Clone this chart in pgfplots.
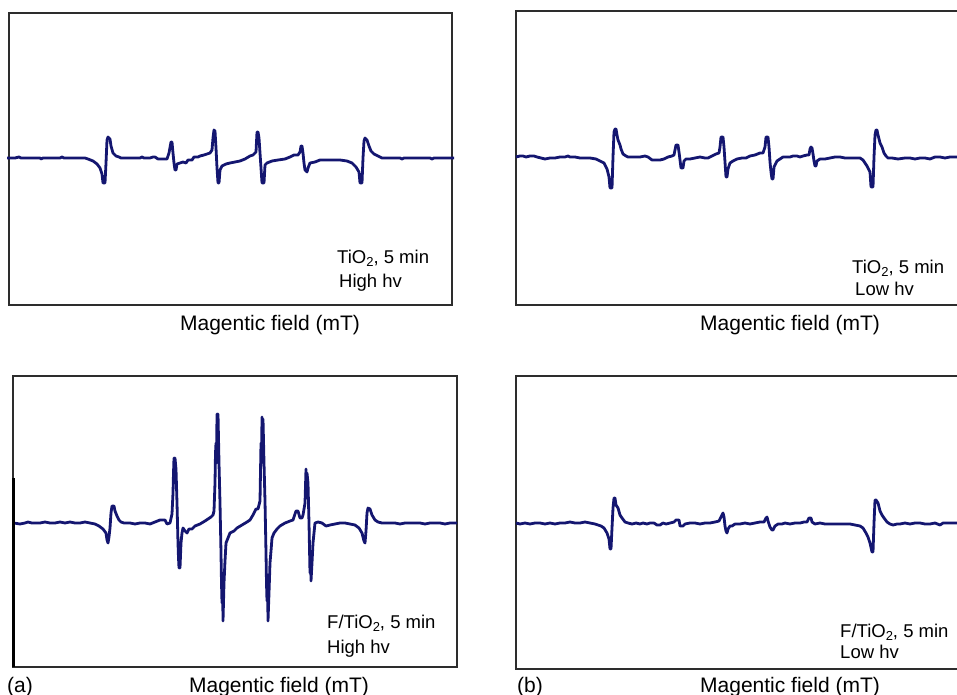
\documentclass[border=0pt]{standalone}
\usepackage{pgfplots}
\pgfplotsset{compat=1.18}
\usepackage{fontspec}
\setmainfont{Liberation Sans}
\definecolor{trace}{RGB}{20,22,112}
\definecolor{frame}{RGB}{45,45,45}
\pgfplotsset{
  epr/.style={scale only axis, anchor=south west, clip=false,
    xtick=\empty, ytick=\empty,
    axis line style={draw=frame, line width=1.4pt}},
  tr/.style={trace, line width=2.8pt, line join=round, mark=none}
}
\newcommand{\bigfont}{\fontsize{21}{25}\selectfont}
\newcommand{\annfont}{\fontsize{18.5}{22}\selectfont}
\newcommand{\sub}[1]{\raisebox{-0.35ex}{\fontsize{13}{15}\selectfont #1}}
\begin{document}
\begin{tikzpicture}[x=1pt,y=1pt]
\useasboundingbox (0,0) rectangle (957,-695);
\clip (0,0) rectangle (957,-695);

% ---------- Panel 1: TiO2, High hv ----------
\begin{axis}[epr, at={(9pt,-305pt)}, width=443pt, height=292pt,
  xmin=9, xmax=452, ymin=-147, ymax=145]
\addplot[tr] coordinates {
(7,0) (15,0) (19,1) (21,0) (40,0) (41,-1) (43,0) (60,0) (62,1) (64,0) (85,0) (88,-1) (93,-3) (97,-6) (100,-10) (102,-16) (103,-25) (105,-25) (106,-5) (107,18) (108,21) (110,19) (111,12) (113,5) (116,2) (119,1) (121,0) (140,0) (142,1) (144,0) (150,0) (153,1) (155,1) (158,-1) (162,-1) (167,-1) (169,5) (171,16) (172,16) (173,5) (174,-5) (175,-12) (176,-12) (177,-6) (180,-5) (183,-4) (186,-5) (188,-2) (192,-2) (194,1) (198,1) (200,2) (204,3) (207,4) (210,5) (212,8) (213,20) (214,28) (215,27) (216,10) (217,-10) (218,-25) (219,-25) (220,-12) (222,-8) (226,-6) (230,-5) (235,-4) (240,-3) (245,-1) (250,2) (253,3) (256,6) (257,26) (258,26) (259,20) (260,5) (261,-10) (262,-25) (264,-25) (265,-7) (267,-5) (272,-3) (278,-2) (285,-1) (290,1) (294,3) (298,3) (300,6) (301,12) (302,12) (303,5) (304,-5) (305,-12) (307,-14) (308,-10) (310,-5) (315,-4) (320,-2) (330,-2) (340,-2) (347,-3) (352,-5) (356,-9) (359,-14) (360,-25) (362,-25) (363,0) (364,17) (365,20) (367,18) (369,12) (371,7) (374,4) (378,2) (382,0) (400,0) (402,-1) (404,0) (430,0) (432,-1) (434,0) (454,0)
};
\end{axis}

% ---------- Panel 2: TiO2, Low hv ----------
\begin{axis}[epr, at={(516pt,-305pt)}, width=446pt, height=294pt,
  xmin=516, xmax=962, ymin=-148, ymax=146]
\addplot[tr] coordinates {
(516,0) (520,1) (523,1) (526,0) (530,1) (534,1) (537,0) (541,-1) (545,-2) (550,-1) (555,-1) (560,0) (565,0) (568,1) (570,0) (575,0) (580,-1) (590,-1) (596,-2) (600,-4) (604,-6) (607,-12) (609,-20) (610,-31) (612,-31) (613,0) (614,25) (615,28) (616,28) (617,22) (618,17) (620,12) (621,8) (623,3) (626,1) (628,0) (640,0) (645,1) (648,0) (652,-3) (660,-3) (664,-2) (668,0) (672,1) (674,2) (676,12) (678,12) (679,5) (680,-3) (681,-11) (683,-11) (684,-4) (686,-2) (690,-2) (695,-1) (700,0) (705,-1) (708,-1) (712,1) (716,3) (719,4) (720,10) (721,20) (723,20) (724,10) (725,-5) (726,-20) (727,-20) (728,-12) (730,-6) (733,-4) (737,-2) (742,-1) (746,-1) (750,1) (755,2) (760,4) (763,4) (765,10) (766,20) (768,20) (769,10) (770,-5) (771,-15) (772,-22) (773,-22) (774,-10) (777,-4) (780,-2) (783,0) (790,0) (793,1) (797,1) (800,0) (803,1) (807,2) (809,2) (810,8) (811,10) (812,9) (813,3) (814,-4) (815,-9) (816,-9) (817,-4) (820,-2) (825,-2) (830,-1) (835,0) (840,0) (845,-1) (850,-1) (855,-1) (860,-1) (863,-3) (865,-6) (867,-9) (869,-13) (870,-15) (871,-30) (873,-30) (874,0) (875,22) (876,27) (877,27) (878,22) (880,14) (882,10) (884,4) (886,1) (888,-1) (892,-1) (898,-2) (905,-1) (910,-1) (915,-2) (920,-1) (925,-1) (930,-2) (935,0) (940,0) (945,-1) (950,0) (957,0) (962,0)
};
\end{axis}

% ---------- Panel 3: F/TiO2, High hv ----------
\begin{axis}[epr, at={(13pt,-667pt)}, width=444pt, height=291pt,
  xmin=13, xmax=457, ymin=-144, ymax=147]
\addplot[tr] coordinates {
(14,0) (20,-1) (25,0) (28,1) (32,0) (40,0) (45,1) (50,0) (55,0) (60,1) (65,0) (70,1) (75,0) (80,0) (85,1) (90,0) (95,-1) (99,-3) (103,-6) (106,-10) (107,-17) (108,-20) (109,-14) (110,-5) (111,10) (112,17) (114,17) (115,12) (117,7) (119,3) (121,1) (124,0) (130,0) (135,-1) (140,0) (145,0) (150,-1) (155,1) (160,3) (165,3) (167,-1) (170,0) (172,9) (173,30) (173.5,50) (174,65) (174.5,40) (175,65) (176,54) (177,20) (178,-20) (178.5,-35) (179,-45) (179.5,-25) (180,-45) (181,-20) (182,-10) (183,-5) (185,-8) (187,-10) (189,-6) (192,-6) (195,-3) (200,-1) (205,2) (208,4) (211,6) (213,8) (214,12) (215,40) (215.5,70) (216,80) (216.5,60) (217,109) (217.5,80) (218,109) (219,60) (220,20) (221,-30) (221.5,-60) (222,-80) (222.5,-50) (223,-98) (224,-60) (225,-38) (226,-20) (228,-15) (230,-10) (234,-8) (237,-5) (242,-2) (247,1) (250,3) (253,8) (256,14) (258,14) (260,22) (261,80) (261.5,60) (262,106) (262.5,80) (263,104) (264,60) (265,22) (266,-30) (266.5,-60) (267,-78) (267.5,-55) (268,-98) (269,-70) (270,-40) (271,-28) (272,-15) (274,-10) (277,-6) (280,-3) (285,0) (290,2) (293,3) (296,12) (298,12) (300,5) (302,5) (303,8) (305,20) (306,54) (306.5,35) (307,50) (308,40) (309,0) (310,-50) (310.5,-30) (311,-58) (312,-40) (313,-20) (315,0) (318,1) (322,0) (326,-3) (330,-2) (335,-1) (340,0) (345,0) (350,-1) (355,-2) (359,-5) (362,-10) (364,-18) (365,-20) (366,-8) (367,10) (368,15) (370,14) (372,8) (375,3) (378,1) (382,0) (395,0) (400,-1) (405,0) (420,0) (425,-1) (430,0) (440,0) (445,-1) (450,0) (457,0)
};
\draw[black, line width=3pt] (axis cs:14,45) -- (axis cs:14,-144);
\end{axis}

% ---------- Panel 4: F/TiO2, Low hv ----------
\begin{axis}[epr, at={(516pt,-669pt)}, width=446pt, height=293pt,
  xmin=516, xmax=962, ymin=-146, ymax=147]
\addplot[tr] coordinates {
(516,0) (520,-1) (525,0) (530,-1) (535,0) (540,0) (545,-1) (550,0) (555,-1) (560,0) (565,0) (570,1) (575,0) (580,0) (585,1) (590,0) (595,-1) (598,-2) (601,-3) (604,-5) (607,-10) (609,-16) (610,-26) (611,-26) (612,-5) (613,15) (614,25) (615,25) (616,18) (618,15) (620,8) (622,5) (625,1) (628,0) (632,-1) (636,0) (640,-1) (643,0) (647,-1) (650,0) (654,0) (657,-2) (660,-2) (663,0) (666,-1) (670,0) (674,1) (676,3) (679,3) (680,-3) (683,-3) (685,-1) (690,0) (695,0) (700,-1) (705,0) (710,0) (715,1) (719,2) (721,6) (723,10) (724,6) (725,-3) (726,-8) (727,-10) (728,-6) (730,-3) (732,-3) (735,-1) (740,-1) (745,0) (750,-1) (755,0) (760,1) (764,1) (766,5) (767,6) (768,2) (770,-4) (772,-7) (773,-7) (775,-3) (778,-1) (782,-1) (785,0) (790,-1) (795,0) (800,0) (804,1) (807,1) (809,5) (811,5) (812,1) (815,-1) (820,0) (825,-1) (830,-1) (840,-1) (850,-1) (855,-2) (860,-3) (863,-5) (866,-10) (868,-14) (870,-20) (872,-29) (873,-29) (874,0) (875,23) (876,23) (878,20) (880,12) (882,8) (884,5) (887,1) (890,-1) (893,-2) (897,-1) (900,-1) (905,0) (910,-1) (915,0) (920,0) (925,-1) (930,-1) (935,0) (940,-2) (943,0) (950,0) (957,0) (962,0)
};
\end{axis}

% ---------- Texts ----------
\node[anchor=base west, inner sep=0pt] at (337,-263) {\annfont TiO\sub{2}, 5 min};
\node[anchor=base west, inner sep=0pt] at (339,-287) {\annfont High hv};
\node[anchor=base west, inner sep=0pt] at (852,-273) {\annfont TiO\sub{2}, 5 min};
\node[anchor=base west, inner sep=0pt] at (855,-295) {\annfont Low hv};
\node[anchor=base west, inner sep=0pt] at (327,-628) {\annfont F/TiO\sub{2}, 5 min};
\node[anchor=base west, inner sep=0pt] at (327,-653) {\annfont High hv};
\node[anchor=base west, inner sep=0pt] at (840,-637) {\annfont F/TiO\sub{2}, 5 min};
\node[anchor=base west, inner sep=0pt] at (840,-658) {\annfont Low hv};

\node[anchor=base, inner sep=0pt] at (270,-330) {\bigfont Magentic field (mT)};
\node[anchor=base, inner sep=0pt] at (790,-330) {\bigfont Magentic field (mT)};
\node[anchor=base, inner sep=0pt] at (279,-692) {\bigfont Magentic field (mT)};
\node[anchor=base, inner sep=0pt] at (790,-692) {\bigfont Magentic field (mT)};
\node[anchor=base west, inner sep=0pt] at (7,-692) {\bigfont (a)};
\node[anchor=base west, inner sep=0pt] at (517,-692) {\bigfont (b)};
\end{tikzpicture}
\end{document}
